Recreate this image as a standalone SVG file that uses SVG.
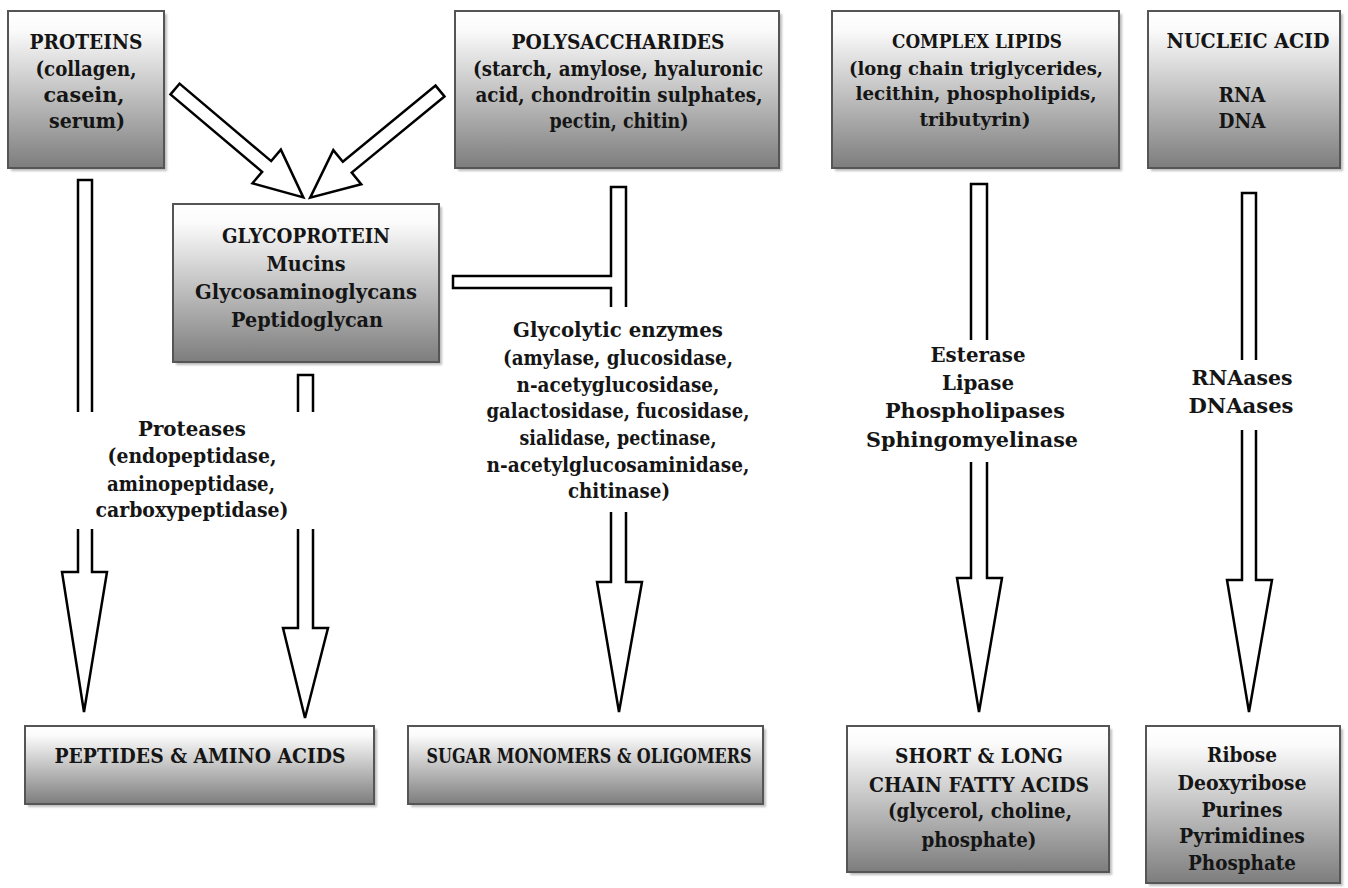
<svg xmlns="http://www.w3.org/2000/svg" width="1348" height="888" viewBox="0 0 1348 888">
<defs>
<linearGradient id="g" x1="0" y1="0" x2="0" y2="1">
<stop offset="0" stop-color="#ffffff"/>
<stop offset="0.12" stop-color="#fbfbfb"/>
<stop offset="1" stop-color="#7d7d7d"/>
</linearGradient>
<filter id="sh" x="-5%" y="-5%" width="115%" height="115%">
<feGaussianBlur stdDeviation="1.2"/>
</filter>
</defs>
<style>
.box{fill:url(#g);stroke:#555;stroke-width:2}
.shadow{fill:#bdbdbd;filter:url(#sh)}
text{font-family:"DejaVu Serif","Liberation Serif",serif;font-weight:bold;font-size:21px;fill:#151515;text-anchor:middle}
.sm{font-size:19px}
.arr{fill:#fff;stroke:#000;stroke-width:2.5;stroke-linejoin:miter}
.ln{fill:none;stroke:#000;stroke-width:2.5;stroke-linejoin:miter}
</style>
<rect width="1348" height="888" fill="#fff"/>

<g id="connectors">
<path class="ln" d="M78,412 V180 H92 V412"/>
<path class="arr" d="M78,529 V572 H62 L84,712 L107,572 H92 V529"/>
<path class="ln" d="M298,412 V375 H313 V412"/>
<path class="arr" d="M298,529 V628 H283 L305,718 L328,628 H313 V529"/>
<path class="ln" d="M611,307 V288 H453 V276 H611 V187 H626 V307"/>
<path class="arr" d="M611,512 V582 H597 L619,712 L642,582 H626 V512"/>
<path class="ln" d="M971,340 V184 H987 V340"/>
<path class="arr" d="M971,462 V578 H957 L979,712 L1002,578 H987 V462"/>
<path class="ln" d="M1242,360 V193 H1256 V360"/>
<path class="arr" d="M1242,430 V580 H1227 L1249,712 L1272,580 H1256 V430"/>
<path class="arr" transform="translate(175,89) rotate(40.2)" d="M0,-7 H120 V-22 L168,0 L120,22 V7 H0 Z"/>
<path class="arr" transform="translate(440,91) rotate(140.6)" d="M0,-7 H120 V-22 L168,0 L120,22 V7 H0 Z"/>
</g>

<g id="proteins">
<rect class="shadow" x="11" y="14" width="156" height="157"/>
<rect class="box" x="8" y="11" width="156" height="157"/>
<text x="86" y="49" textLength="113" lengthAdjust="spacingAndGlyphs">PROTEINS</text>
<text x="86" y="76" textLength="101" lengthAdjust="spacingAndGlyphs">(collagen,</text>
<text x="84" y="102" textLength="81" lengthAdjust="spacingAndGlyphs">casein,</text>
<text x="87" y="128" textLength="76" lengthAdjust="spacingAndGlyphs">serum)</text>
</g>

<g id="polysaccharides">
<rect class="shadow" x="458" y="14" width="324" height="157"/>
<rect class="box" x="455" y="11" width="324" height="157"/>
<text x="618" y="49" textLength="213" lengthAdjust="spacingAndGlyphs">POLYSACCHARIDES</text>
<text x="618" y="76" textLength="290" lengthAdjust="spacingAndGlyphs">(starch, amylose, hyaluronic</text>
<text x="619" y="102" textLength="287" lengthAdjust="spacingAndGlyphs">acid, chondroitin sulphates,</text>
<text x="619" y="128" textLength="139" lengthAdjust="spacingAndGlyphs">pectin, chitin)</text>
</g>

<g id="complex-lipids">
<rect class="shadow" x="835" y="14" width="287" height="157"/>
<rect class="box" x="832" y="11" width="287" height="157"/>
<text class="sm" x="977" y="48" textLength="170" lengthAdjust="spacingAndGlyphs">COMPLEX LIPIDS</text>
<text class="sm" x="976" y="75" textLength="254" lengthAdjust="spacingAndGlyphs">(long chain triglycerides,</text>
<text class="sm" x="976" y="100" textLength="241" lengthAdjust="spacingAndGlyphs">lecithin, phospholipids,</text>
<text class="sm" x="975" y="126" textLength="111" lengthAdjust="spacingAndGlyphs">tributyrin)</text>
</g>

<g id="nucleic-acid">
<rect class="shadow" x="1151" y="14" width="192" height="157"/>
<rect class="box" x="1148" y="11" width="192" height="157"/>
<text x="1248" y="48" textLength="163" lengthAdjust="spacingAndGlyphs">NUCLEIC ACID</text>
<text x="1242" y="102" textLength="47" lengthAdjust="spacingAndGlyphs">RNA</text>
<text x="1242" y="128" textLength="47" lengthAdjust="spacingAndGlyphs">DNA</text>
</g>

<g id="glycoprotein">
<rect class="shadow" x="176" y="207" width="266" height="158"/>
<rect class="box" x="173" y="204" width="266" height="158"/>
<text x="306" y="243" textLength="168" lengthAdjust="spacingAndGlyphs">GLYCOPROTEIN</text>
<text x="306" y="271" textLength="79" lengthAdjust="spacingAndGlyphs">Mucins</text>
<text x="306" y="299" textLength="222" lengthAdjust="spacingAndGlyphs">Glycosaminoglycans</text>
<text x="307" y="327" textLength="152" lengthAdjust="spacingAndGlyphs">Peptidoglycan</text>
</g>

<g id="proteases">
<text x="192" y="436" textLength="108" lengthAdjust="spacingAndGlyphs">Proteases</text>
<text x="192" y="463" textLength="169" lengthAdjust="spacingAndGlyphs">(endopeptidase,</text>
<text x="191" y="491" textLength="168" lengthAdjust="spacingAndGlyphs">aminopeptidase,</text>
<text x="192" y="517" textLength="193" lengthAdjust="spacingAndGlyphs">carboxypeptidase)</text>
</g>

<g id="glycolytic">
<text x="618" y="337" textLength="210" lengthAdjust="spacingAndGlyphs">Glycolytic enzymes</text>
<text x="618" y="365" textLength="230" lengthAdjust="spacingAndGlyphs">(amylase, glucosidase,</text>
<text x="618" y="392" textLength="203" lengthAdjust="spacingAndGlyphs">n-acetyglucosidase,</text>
<text x="618" y="418" textLength="263" lengthAdjust="spacingAndGlyphs">galactosidase, fucosidase,</text>
<text x="618" y="445" textLength="197" lengthAdjust="spacingAndGlyphs">sialidase, pectinase,</text>
<text x="618" y="472" textLength="263" lengthAdjust="spacingAndGlyphs">n-acetylglucosaminidase,</text>
<text x="619" y="498" textLength="102" lengthAdjust="spacingAndGlyphs">chitinase)</text>
</g>

<g id="lipases">
<text x="978" y="362" textLength="95" lengthAdjust="spacingAndGlyphs">Esterase</text>
<text x="978" y="390" textLength="72" lengthAdjust="spacingAndGlyphs">Lipase</text>
<text x="975" y="418" textLength="180" lengthAdjust="spacingAndGlyphs">Phospholipases</text>
<text x="972" y="447" textLength="212" lengthAdjust="spacingAndGlyphs">Sphingomyelinase</text>
</g>

<g id="nucleases">
<text x="1242" y="385" textLength="101" lengthAdjust="spacingAndGlyphs">RNAases</text>
<text x="1241" y="413" textLength="105" lengthAdjust="spacingAndGlyphs">DNAases</text>
</g>

<g id="peptides">
<rect class="shadow" x="28" y="729" width="349" height="78"/>
<rect class="box" x="25" y="726" width="349" height="78"/>
<text x="200" y="763" textLength="291" lengthAdjust="spacingAndGlyphs">PEPTIDES &amp; AMINO ACIDS</text>
</g>

<g id="sugars">
<rect class="shadow" x="411" y="729" width="355" height="78"/>
<rect class="box" x="408" y="726" width="355" height="78"/>
<text x="589" y="763" textLength="325" lengthAdjust="spacingAndGlyphs">SUGAR MONOMERS &amp; OLIGOMERS</text>
</g>

<g id="fatty-acids">
<rect class="shadow" x="850" y="729" width="262" height="146"/>
<rect class="box" x="847" y="726" width="262" height="146"/>
<text x="979" y="763" textLength="168" lengthAdjust="spacingAndGlyphs">SHORT &amp; LONG</text>
<text x="979" y="792" textLength="220" lengthAdjust="spacingAndGlyphs">CHAIN FATTY ACIDS</text>
<text x="980" y="818" textLength="184" lengthAdjust="spacingAndGlyphs">(glycerol, choline,</text>
<text x="979" y="847" textLength="115" lengthAdjust="spacingAndGlyphs">phosphate)</text>
</g>

<g id="nucleotides">
<rect class="shadow" x="1149" y="729" width="194" height="157"/>
<rect class="box" x="1146" y="726" width="194" height="157"/>
<text x="1242" y="762" textLength="70" lengthAdjust="spacingAndGlyphs">Ribose</text>
<text x="1242" y="790" textLength="129" lengthAdjust="spacingAndGlyphs">Deoxyribose</text>
<text x="1242" y="817" textLength="81" lengthAdjust="spacingAndGlyphs">Purines</text>
<text x="1242" y="843" textLength="126" lengthAdjust="spacingAndGlyphs">Pyrimidines</text>
<text x="1242" y="870" textLength="108" lengthAdjust="spacingAndGlyphs">Phosphate</text>
</g>
</svg>
